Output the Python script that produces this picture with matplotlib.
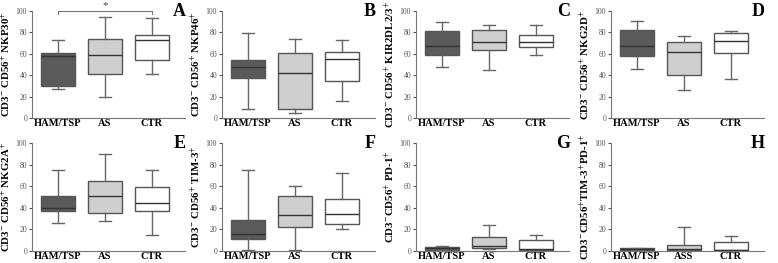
import numpy as np
import matplotlib.pyplot as plt

plt.rcParams['font.family'] = ['Liberation Serif', 'DejaVu Serif']
plt.rcParams['mathtext.fontset'] = 'stix'

groups = ['HAM/TSP', 'AS', 'CTR']
groups_h = ['HAM/TSP', 'ASS', 'CTR']
colors = ['#5a5a5a', '#cfcfcf', '#ffffff']

# each entry: [whislo, q1, med, q3, whishi] for HAM/TSP, AS, CTR
panel_A = [[27, 30, 58, 61, 73], [20, 41, 59, 74, 94], [41, 54, 73, 78, 93]]
panel_B = [[8, 37, 48, 54, 79], [5, 8, 42, 61, 74], [16, 35, 55, 62, 73]]
panel_C = [[48, 59, 67, 81, 90], [45, 64, 71, 82, 87], [59, 66, 71, 78, 87]]
panel_D = [[46, 58, 67, 82, 91], [26, 40, 62, 71, 77], [36, 61, 72, 79, 81]]
panel_E = [[26, 37, 40, 51, 75], [28, 35, 51, 65, 90], [15, 37, 44, 59, 75]]
panel_F = [[1, 11, 16, 29, 75], [1, 22, 33, 51, 60], [20, 25, 34, 48, 72]]
panel_G = [[0.5, 1, 3, 4, 5], [2, 3, 5, 13, 24], [0, 0.5, 2, 10, 15]]
panel_H = [[0.5, 1, 2, 2.5, 3], [0.5, 1, 2, 6, 22], [0, 0.5, 1, 8, 14]]

ylabels = [r'CD3$^{-}$ CD56$^{+}$ NKP30$^{+}$',
           r'CD3$^{-}$ CD56$^{+}$ NKP46$^{+}$',
           r'CD3$^{-}$ CD56$^{+}$ KIR2DL2/3$^{+}$',
           r'CD3$^{-}$ CD56$^{+}$ NKG2D$^{+}$',
           r'CD3$^{-}$ CD56$^{+}$ NKG2A$^{+}$',
           r'CD3$^{-}$ CD56$^{+}$ TIM-3$^{+}$',
           r'CD3$^{-}$CD56$^{+}$ PD-1$^{+}$',
           r'CD3$^{-}$CD56$^{+}$TIM-3$^{+}$PD-1$^{+}$']
letters = ['A', 'B', 'C', 'D', 'E', 'F', 'G', 'H']
panels = [panel_A, panel_B, panel_C, panel_D, panel_E, panel_F, panel_G, panel_H]

fig = plt.figure(figsize=(7.78, 2.63), dpi=100)
W, H = 778, 263
lefts = [32, 222, 416, 611]
rows = [(118, 11), (251, 143)]  # (y of 0, y of 100) in pixels

for k, data in enumerate(panels):
    r, c = divmod(k, 4)
    y0, y1 = rows[r]
    ax = fig.add_axes([lefts[c] / W, 1 - y0 / H, 153 / W, (y0 - y1) / H])
    stats = []
    for d in data:
        stats.append(dict(whislo=d[0], q1=d[1], med=d[2], q3=d[3], whishi=d[4], fliers=[]))
    bp = ax.bxp(stats, positions=[1, 2, 3], widths=0.72, capwidths=0.25,
                patch_artist=True, showfliers=False,
                boxprops=dict(edgecolor='#555555', linewidth=1.0),
                medianprops=dict(color='#333333', linewidth=1.0),
                whiskerprops=dict(color='#666666', linewidth=1.0),
                capprops=dict(color='#666666', linewidth=1.0))
    for patch, col in zip(bp['boxes'], colors):
        patch.set_facecolor(col)
    ax.set_xlim(0.45, 3.7)
    ax.set_ylim(0, 100)
    ax.set_yticks([0, 20, 40, 60, 80, 100])
    ax.set_xticks([1, 2, 3])
    ax.set_xticklabels(groups_h if k == 7 else groups, fontsize=7.6, fontweight='bold')
    ax.tick_params('x', length=0, pad=1)
    ax.tick_params('y', length=2.5, width=0.8, labelsize=5.5, colors='#555555', pad=1)
    for lab in ax.get_xticklabels():
        lab.set_color('black')
    ax.spines['right'].set_visible(False)
    ax.spines['top'].set_visible(False)
    ax.spines['left'].set_color('#777777')
    ax.spines['bottom'].set_color('#777777')
    ax.set_ylabel(ylabels[k], fontsize=7.8, fontweight='bold', labelpad=2)
    ax.text(3.72, 100, letters[k], fontsize=13, fontweight='bold', ha='right', va='center')
    if k == 0:
        ax.plot([1, 1, 3, 3], [97, 100, 100, 97], color='#777777', lw=0.8, clip_on=False)
        ax.text(2, 101, '*', ha='center', va='bottom', fontsize=8, color='#444444')

plt.savefig('out.png', dpi=100)
